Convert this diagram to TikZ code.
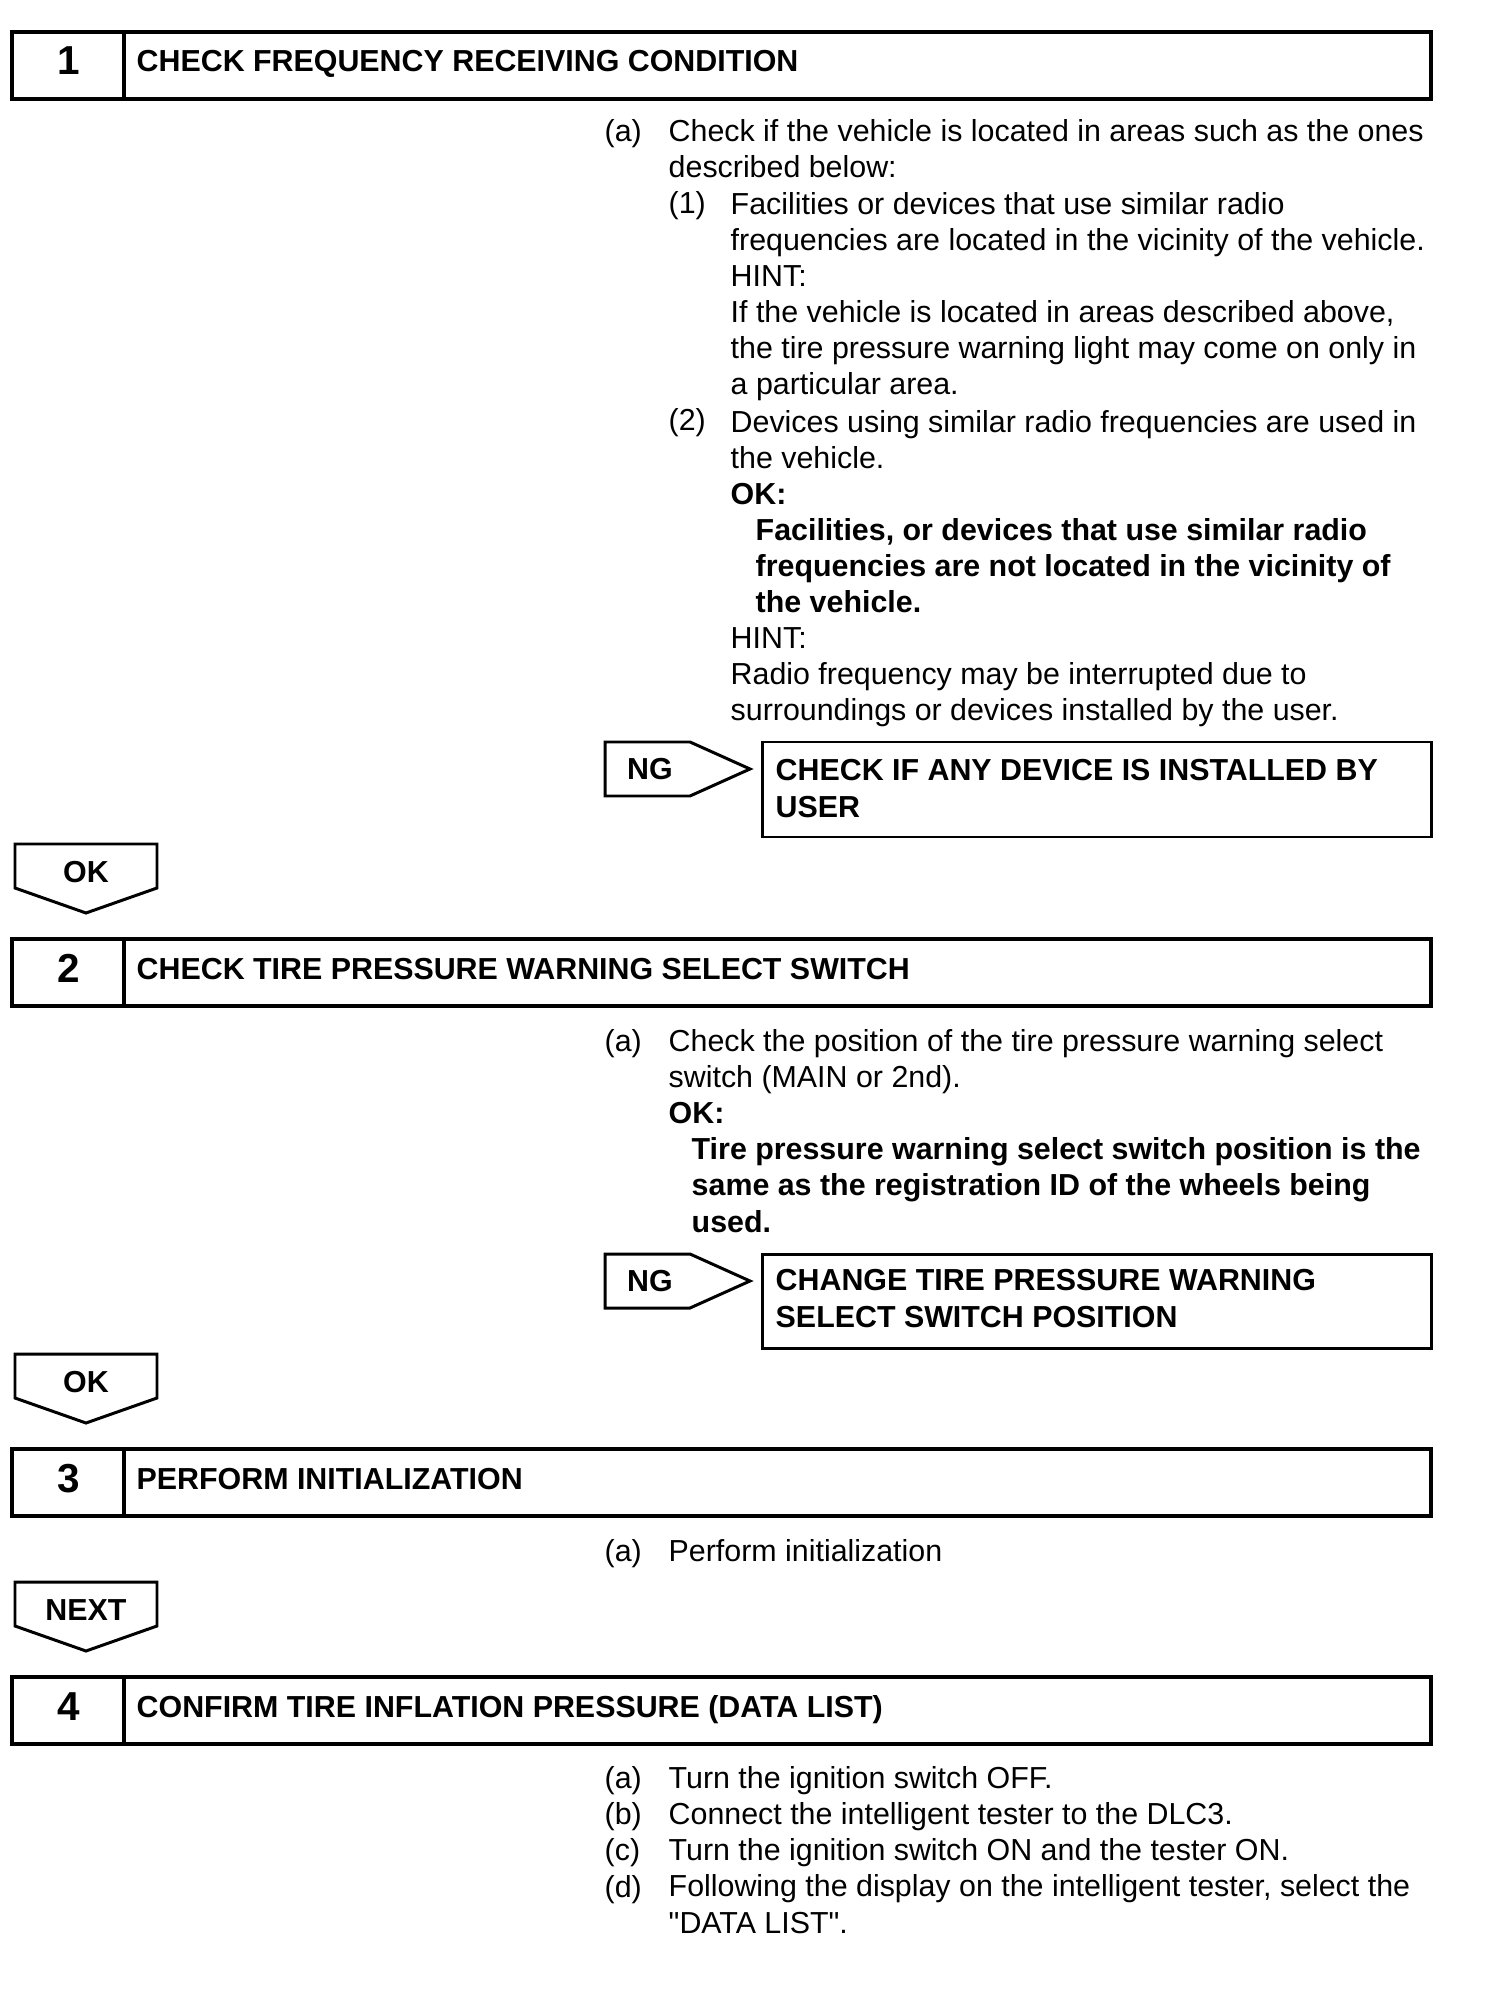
\documentclass[tikz,border=0pt]{standalone}
\usepackage{fontspec}
\setmainfont{Liberation Sans}[Ligatures=TeXOff]

\begin{document}
\begin{tikzpicture}[x=0.01cm, y=-0.01cm,
    txt/.style={anchor=base west, inner sep=0pt, align=left, font=\fontsize{8.64}{10.27}\selectfont},
    bold/.style={txt, font=\fontsize{8.64}{10.27}\selectfont\bfseries},
    num/.style={anchor=base, inner sep=0pt, font=\fontsize{11.5}{13}\selectfont\bfseries},
    tag/.style={inner sep=0pt, font=\fontsize{8.64}{10.27}\selectfont\bfseries},
    headbox/.style={line width=1.1pt},
    outline/.style={line width=0.85pt, line join=miter}]

    % page
    \fill[white] (0,0) rectangle (1504,1998);

    % Step headers
    \foreach \y/\n/\t in {32/1/CHECK FREQUENCY RECEIVING CONDITION,
                          939/2/CHECK TIRE PRESSURE WARNING SELECT SWITCH,
                          1449/3/PERFORM INITIALIZATION,
                          1677/4/CONFIRM TIRE INFLATION PRESSURE (DATA LIST)} {
        \draw[headbox] (12,\y) rectangle (1431,\y+67);
        \draw[headbox] (124,\y) -- (124,\y+67);
        \node[num] (num\n) at (69,\y+43) {\n};
        \node[bold] (head\n) at (136,\y+40) {\t};
    }

    % OK / NEXT arrows
    \foreach \y/\w/\n in {844/OK/ok1, 1354/OK/ok2, 1582/NEXT/next} {
        \draw[outline] (15,\y) -- (157,\y) -- (157,\y+44) -- (86,\y+69) -- (15,\y+44) -- cycle;
        \node[tag] (\n) at (86,\y+28) {\w};
    }

    % NG arrows and repair boxes
    % (multi-line nodes sit on the baseline of their last line)
    \foreach \y/\n in {742/ng1, 1254/ng2} {
        \draw[outline] (605,\y) -- (690,\y) -- (750,\y+27) -- (690,\y+54) -- (605,\y+54) -- cycle;
        \node[tag] (\n) at (650,\y+27) {NG};
    }
    \draw[outline] (762,742) rectangle (1431,837);
    \node[bold] (fix1) at (775,817) {CHECK IF ANY DEVICE IS INSTALLED BY\\USER};
    \draw[outline] (762,1254) rectangle (1431,1348);
    \node[bold] (fix2) at (775,1327) {CHANGE TIRE PRESSURE WARNING\\SELECT SWITCH POSITION};

    % Step 1 text
    \node[txt] (a1) at (604,142) {(a)};
    \node[txt] (a1txt) at (668,178) {Check if the vehicle is located in areas such as the ones\\described below:};
    \node[txt] (a1one) at (668,214) {(1)};
    \node[txt] (a1onetxt) at (730,395) {Facilities or devices that use similar radio\\frequencies are located in the vicinity of the vehicle.\\HINT:\\If the vehicle is located in areas described above,\\the tire pressure warning light may come on only in\\a particular area.};
    \node[txt] (a1two) at (668,431) {(2)};
    \node[txt] (a1twotxt) at (730,721) {Devices using similar radio frequencies are used in\\the vehicle.\\\textbf{OK:}\\\hspace*{0.25cm}\textbf{Facilities, or devices that use similar radio}\\\hspace*{0.25cm}\textbf{frequencies are not located in the vicinity of}\\\hspace*{0.25cm}\textbf{the vehicle.}\\HINT:\\Radio frequency may be interrupted due to\\surroundings or devices installed by the user.};

    % Step 2 text
    \node[txt] (a2) at (604,1051) {(a)};
    \node[txt] (a2txt) at (668,1232) {Check the position of the tire pressure warning select\\switch (MAIN or 2nd).\\\textbf{OK:}\\\hspace*{0.23cm}\textbf{Tire pressure warning select switch position is the}\\\hspace*{0.23cm}\textbf{same as the registration ID of the wheels being}\\\hspace*{0.23cm}\textbf{used.}};

    % Step 3 text
    \node[txt] (a3) at (604,1561) {(a)};
    \node[txt] (a3txt) at (668,1561) {Perform initialization};

    % Step 4 text
    \node[txt] (a4) at (604,1897) {(a)\\(b)\\(c)\\(d)};
    \node[txt] (a4txt) at (668,1933) {Turn the ignition switch OFF.\\Connect the intelligent tester to the DLC3.\\Turn the ignition switch ON and the tester ON.\\Following the display on the intelligent tester, select the\\"DATA LIST".};
\end{tikzpicture}
\end{document}
